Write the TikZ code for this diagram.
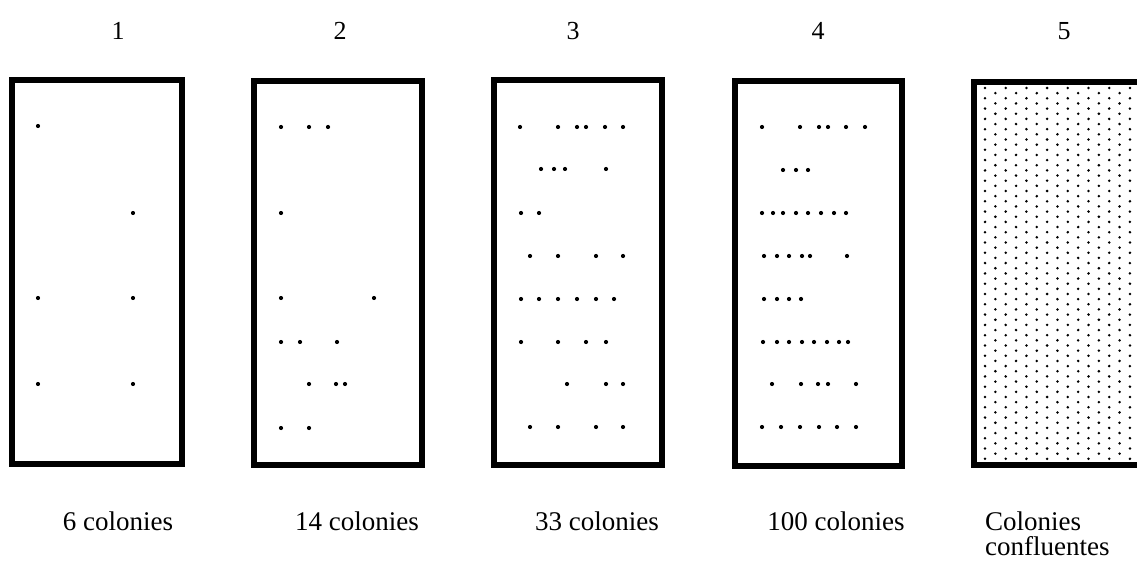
\documentclass[tikz,border=0pt]{standalone}
\usepackage{fontspec}
\setmainfont{Liberation Serif}
\begin{document}
\begin{tikzpicture}[x=1pt,y=-1pt,
  plate/.style={draw=black,line width=6pt,fill=white},
  colony/.style={fill=black,draw=none},
  lawn/.style={fill=black,draw=none},
  num/.style={font=\fontsize{26}{30}\selectfont,inner sep=0pt},
  caption/.style={font=\fontsize{27}{31}\selectfont,inner sep=0pt,anchor=base}]
\useasboundingbox (0,0) rectangle (1137,561);

% plates
\draw[plate] (12,80) rectangle (182,464);
\draw[plate] (254,81) rectangle (422,465);
\draw[plate] (494,80) rectangle (662,465);
\draw[plate] (735,81) rectangle (902,466);
\begin{scope}
  \clip (0,0) rectangle (1137,561);
  \draw[plate] (974,82) rectangle (1144,465);
  % confluent growth: staggered columns of small dots
  \foreach \j in {0,...,14}{
    \pgfmathsetmacro{\xx}{985+10.35*\j}
    \pgfmathsetmacro{\yo}{88+5.15*mod(\j,2)}
    \pgfmathtruncatemacro{\nr}{36-mod(\j,2)}
    \foreach \i in {0,...,\nr}{
      \fill[lawn] (\xx,{\yo+10.3*\i}) circle (1.4);
    }
  }
\end{scope}

% plate 1: 6 colonies
\foreach \p in {(38,126),(133,213),(38,298),(133,298),(38,384),(133,384)}
  \fill[colony] \p circle (2.1);

% plate 2: 14 colonies
\foreach \p in {(281,127),(309,127),(328,127),(281,213),(281,298),(374,298),
  (281,342),(300,342),(337,342),(309,384),(336,384),(345,384),(281,428),(309,428)}
  \fill[colony] \p circle (2.1);

% plate 3
\foreach \x/\y in {520/127,558/127,577/127,586/127,605/127,623/127,
  541/169,554/169,565/169,606/169,
  521/213,539/213,
  530/256,558/256,596/256,623/256,
  521/299,539/299,558/299,577/299,596/299,614/299,
  521/342,558/342,586/342,606/342,
  567/384,606/384,623/384,
  530/427,558/427,596/427,623/427}
  \fill[colony] (\x,\y) circle (2.1);

% plate 4
\foreach \x/\y in {762/127,800/127,819/127,828/127,846/127,865/127,
  783/170,796/170,808/170,
  762/213,773/213,783/213,796/213,808/213,821/213,834/213,846/213,
  764/256,777/256,789/256,802/256,810/256,847/256,
  764/299,777/299,789/299,801/299,
  763/342,777/342,789/342,802/342,814/342,827/342,839/342,848/342,
  772/384,801/384,818/384,828/384,856/384,
  762/427,781/427,800/427,819/427,837/427,856/427}
  \fill[colony] (\x,\y) circle (2.1);

% plate numbers
\node[num] (n1) at (118,31) {1};
\node[num] (n2) at (340,31) {2};
\node[num] (n3) at (573,31) {3};
\node[num] (n4) at (818,31) {4};
\node[num] (n5) at (1064,31) {5};

% captions
\node[caption] (c1) at (118,530) {6 colonies};
\node[caption] (c2) at (357,530) {14 colonies};
\node[caption] (c3) at (597,530) {33 colonies};
\node[caption] (c4) at (836,530) {100 colonies};
\node[caption,anchor=base west] (c5) at (985,530) {Colonies};
\node[caption,anchor=base west] (c6) at (985,555) {confluentes};
\end{tikzpicture}
\end{document}
